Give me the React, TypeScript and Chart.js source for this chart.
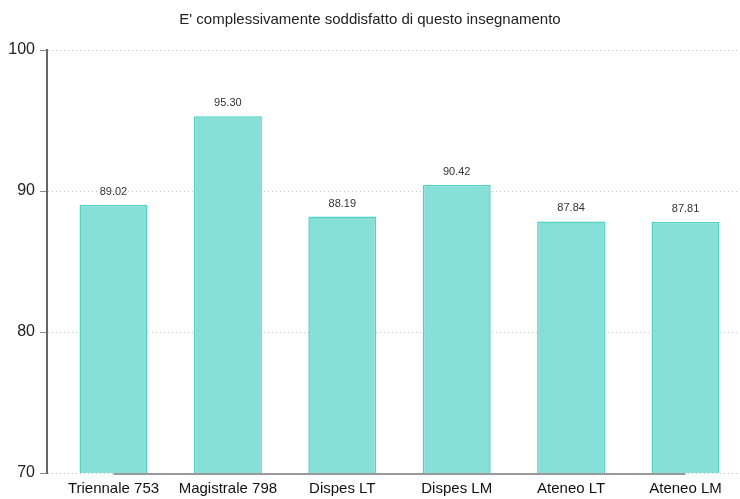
import React, { useEffect, useRef } from "react";
import { Chart, registerables } from "chart.js";

Chart.register(...registerables);

const categories = ["Triennale 753", "Magistrale 798", "Dispes LT", "Dispes LM", "Ateneo LT", "Ateneo LM"];
const values = [89.02, 95.3, 88.19, 90.42, 87.84, 87.81];
const yTicks = [70, 80, 90, 100];
const titleText = "E' complessivamente soddisfatto di questo insegnamento";

const FONT = "'Liberation Sans', Arial, sans-serif";

const extrasPlugin = {
  id: "extras",
  afterDatasetsDraw(chart: any) {
    const { ctx, scales } = chart;
    const x = scales.x;
    const y = scales.y;
    ctx.save();
    // x baseline from first to last category centre
    ctx.strokeStyle = "#9a9a9a";
    ctx.lineWidth = 2;
    ctx.beginPath();
    ctx.moveTo(x.getPixelForValue(0), y.bottom + 1);
    ctx.lineTo(x.getPixelForValue(categories.length - 1), y.bottom + 1);
    ctx.stroke();
    // value labels
    const meta = chart.getDatasetMeta(0);
    ctx.fillStyle = "#333";
    ctx.font = "11px " + FONT;
    ctx.textAlign = "center";
    ctx.textBaseline = "middle";
    meta.data.forEach((bar: any, i: number) => {
      ctx.fillText(values[i].toFixed(2), bar.x, bar.y - 13);
    });
    ctx.restore();
  },
};

export default function App() {
  const ref = useRef<HTMLCanvasElement>(null);
  useEffect(() => {
    if (!ref.current) return;
    const chart = new Chart(ref.current, {
      type: "bar",
      data: {
        datasets: [
          {
            data: values.map((v, i) => ({ x: i, y: v })),
            backgroundColor: "rgb(134,224,216)",
            borderColor: "rgb(78,210,196)",
            borderWidth: 1.5,
            categoryPercentage: 1,
            barPercentage: 0.594,
          },
        ],
      },
      options: {
        responsive: false,
        animation: false,
        layout: { padding: { left: 0, right: 0, top: 0, bottom: 0 } },
        plugins: {
          legend: { display: false },
          tooltip: { enabled: false },
          title: {
            display: true,
            text: titleText,
            color: "#222",
            font: { family: FONT, size: 15, weight: "normal" },
            padding: { top: 11, bottom: 21 },
          },
        },
        scales: {
          x: {
            type: "linear",
            offset: false,
            min: -0.581,
            max: 5.476,
            grid: { display: false, drawTicks: false },
            border: { display: false },
            afterBuildTicks: (scale: any) => {
              scale.ticks = categories.map((_, i) => ({ value: i }));
            },
            afterFit: (scale: any) => {
              scale.height = 26;
            },
            ticks: {
              autoSkip: false,
              maxRotation: 0,
              padding: 7,
              color: "#111",
              font: { family: FONT, size: 15 },
              callback: (v: any) => categories[v] ?? "",
            },
          },
          y: {
            min: 70,
            max: 100,
            afterBuildTicks: (scale: any) => {
              scale.ticks = yTicks.map((v) => ({ value: v }));
            },
            afterFit: (scale: any) => {
              scale.width = 47;
            },
            grid: {
              color: "#c8c8c8",
              lineWidth: 1,
              tickLength: 7,
              tickColor: "#888",
            } as any,
            border: { display: true, color: "#666", width: 2, dash: [1, 3] } as any,
            ticks: {
              padding: 5,
              color: "#222",
              font: { family: FONT, size: 16 },
            },
          },
        },
      } as any,
      plugins: [extrasPlugin],
    });
    return () => chart.destroy();
  }, []);
  return (
    <div style={{ position: "fixed", left: 0, top: 0, width: 740, height: 499, background: "#fff" }}>
      <canvas ref={ref} width={740} height={499} />
    </div>
  );
}
